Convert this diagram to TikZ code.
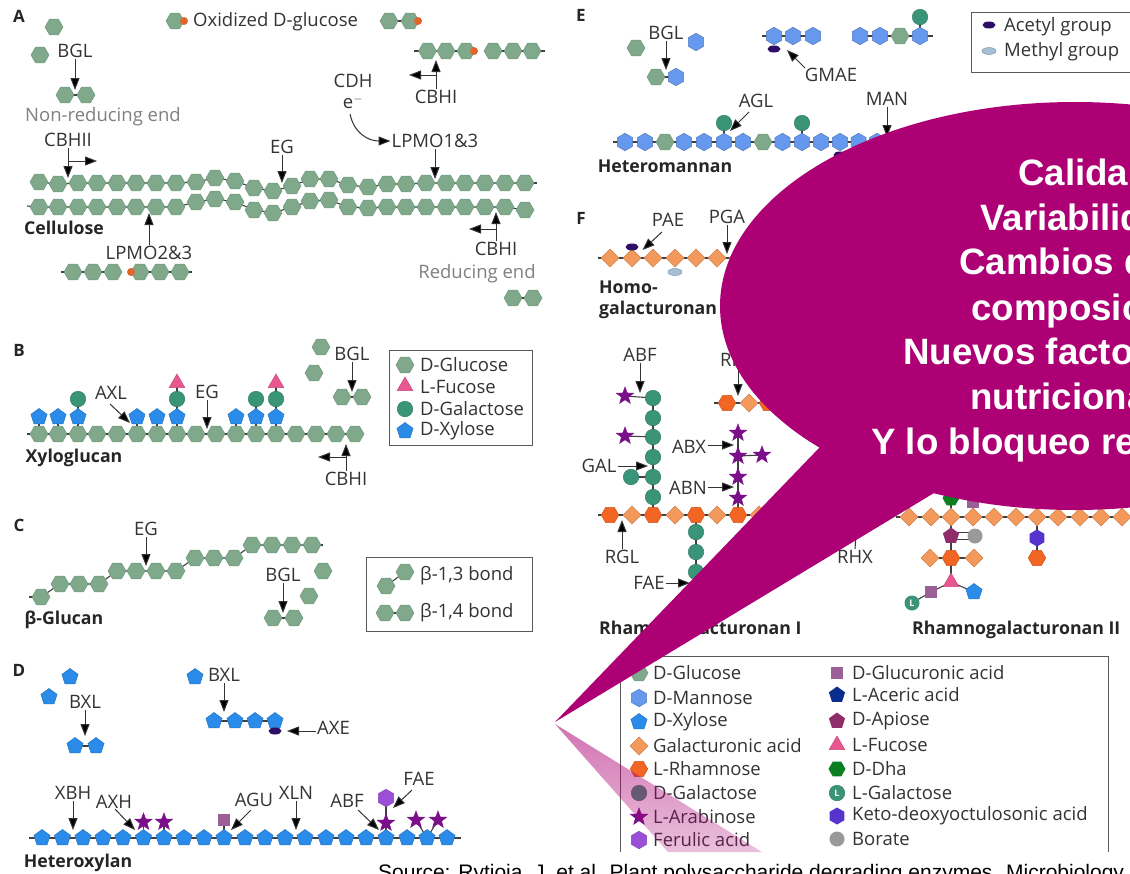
\documentclass[tikz,border=0pt]{standalone}
\usepackage{fontspec}
\setmainfont{Open Sans}
\newfontfamily\callfont{Liberation Sans}
\usetikzlibrary{shapes.geometric,arrows.meta,fadings}
\pgfdeclarelayer{bg}
\pgfsetlayers{bg,main}
\definecolor{cGlc}{HTML}{7FA98A}
\definecolor{cGlcD}{HTML}{6E9A7B}
\definecolor{cXyl}{HTML}{2B8BE8}
\definecolor{cMan}{HTML}{6699EE}
\definecolor{cGal}{HTML}{3A9478}
\definecolor{cFuc}{HTML}{E8578F}
\definecolor{cRha}{HTML}{F26522}
\definecolor{cGalA}{HTML}{F4995C}
\definecolor{cAra}{HTML}{7B0F8A}
\definecolor{cFer}{HTML}{9B4FD6}
\definecolor{cAce}{HTML}{2E0F66}
\definecolor{cMet}{HTML}{A5C0D6}
\definecolor{cGlcA}{HTML}{9A6097}
\definecolor{cOx}{HTML}{E0662B}
\definecolor{cAcer}{HTML}{0A2C8C}
\definecolor{cApi}{HTML}{8E2D6A}
\definecolor{cDha}{HTML}{0A7F22}
\definecolor{cKdo}{HTML}{5533CC}
\definecolor{cBor}{HTML}{999999}
\definecolor{cTxt}{HTML}{333333}
\definecolor{cBall}{HTML}{AD0074}
\tikzfading[name=tailfade,top color=transparent!45,bottom color=transparent!75]
\tikzset{
 sug/.style={inner sep=0pt,outer sep=0pt,line width=.5pt},
 glc/.style={sug,regular polygon,regular polygon sides=6,minimum size=18pt,fill=cGlc,draw=cGlcD},
 man/.style={sug,regular polygon,regular polygon sides=6,shape border rotate=30,minimum size=17.5pt,fill=cMan,draw=cMan!80!black},
 xyl/.style={sug,regular polygon,regular polygon sides=5,minimum size=17pt,fill=cXyl,draw=cXyl!85!black},
 gal/.style={sug,circle,minimum size=15.5pt,fill=cGal,draw=cGal!85!black},
 fuc/.style={sug,regular polygon,regular polygon sides=3,minimum size=18pt,fill=cFuc,draw=cFuc!85!black},
 rha/.style={sug,regular polygon,regular polygon sides=6,minimum size=17.5pt,fill=cRha,draw=cRha!85!black},
 gala/.style={sug,regular polygon,regular polygon sides=4,shape border rotate=45,minimum size=18pt,fill=cGalA,draw=cGalA!85!black},
 ara/.style={sug,star,star points=5,star point ratio=2.4,minimum size=18pt,fill=cAra,draw=cAra},
 fer/.style={sug,regular polygon,regular polygon sides=6,shape border rotate=30,minimum size=17.5pt,fill=cFer,draw=cFer!85!black},
 ace/.style={sug,ellipse,minimum width=13pt,minimum height=7pt,fill=cAce},
 met/.style={sug,ellipse,minimum width=14pt,minimum height=7pt,fill=cMet,draw=cMet!80!black},
 glca/.style={sug,rectangle,minimum size=11.5pt,fill=cGlcA},
 oxd/.style={sug,circle,minimum size=8pt,fill=cOx},
 acer/.style={sug,regular polygon,regular polygon sides=5,minimum size=17pt,fill=cAcer},
 api/.style={sug,regular polygon,regular polygon sides=5,minimum size=17pt,fill=cApi},
 dha/.style={sug,regular polygon,regular polygon sides=6,minimum size=17pt,fill=cDha},
 kdo/.style={sug,regular polygon,regular polygon sides=6,shape border rotate=30,minimum size=17pt,fill=cKdo},
 bor/.style={sug,circle,minimum size=15pt,fill=cBor},
 lgal/.style={sug,circle,minimum size=15pt,fill=cGal,text=white,font=\bfseries\fontsize{9}{9}\selectfont},
 bond/.style={draw=black!75,line width=1.1pt},
 arw/.style={draw=cTxt,line width=1pt,-{Stealth[length=12pt,width=9pt,inset=0pt,fill=black]}},
 lab/.style={inner sep=1pt,text=cTxt,font=\fontsize{18.5}{18.5}\selectfont},
 glab/.style={lab,text=black!50},
 blab/.style={inner sep=1pt,text=black!85,font=\bfseries\fontsize{17.7}{21}\selectfont},
 llab/.style={lab,anchor=west},
 frame/.style={draw=black!65,line width=1pt},
 calltxt/.style={anchor=base west,inner sep=0pt,text=white,font=\callfont\bfseries\fontsize{36.7}{36.7}\selectfont},
 srctxt/.style={anchor=base west,inner sep=0pt,text=black,font=\callfont\fontsize{21}{21}\selectfont},
}
\newcommand{\Row}[3]{\foreach \x/\y [count=\i] in {#3} \node[#1] (#2\i) at (\x,\y) {};}
\newcommand{\Mix}[2]{\foreach \s/\x/\y [count=\i] in {#2} \node[\s] (#1\i) at (\x,\y) {};}
\newcommand{\Poly}[3]{\begin{pgfonlayer}{bg}\draw[bond] (#1#2.center) foreach \i in {#2,...,#3} { -- (#1\i.center)};\end{pgfonlayer}}
\newcommand{\Bond}[2]{\begin{pgfonlayer}{bg}\draw[bond] (#1) -- (#2);\end{pgfonlayer}}
\newcommand{\Lab}[4]{\node[lab] (#1) at (#2,#3) {#4};}
\newcommand{\Arr}[2]{\draw[arw] (#1) -- (#2);}
\newcommand{\Pt}[3]{\coordinate (#1) at (#2,#3);}
\begin{document}
\begin{tikzpicture}[x=1pt,y=-1pt]
\useasboundingbox (0,0) rectangle (1130,873);
\begin{pgfonlayer}{bg}\fill[white] (0,0) rectangle (1130,873);\end{pgfonlayer}

% ---------- Panel letters
\foreach \n/\x/\y in {A/19/16,B/19/350,C/19/525,D/19/670,E/581/15,F/581/218}
  \node[blab,font=\bfseries\fontsize{17}{17}\selectfont] (let\n) at (\x,\y) {\n};

% ---------- Panel A
\Row{glc}{aS}{54/27,40/55}
\Lab{aBGL}{75}{51}{BGL}
\Row{glc}{aP}{65/95,86/95}\Poly{aP}{1}{2}
\Pt{aBGLt}{75}{90}\Arr{aBGL.south}{aBGLt}
\node[glab] (aNon) at (103,117) {Non-reducing end};
\Row{glc}{aO}{175/21}\node[oxd] (aOd) at (184,21) {};
\node[llab] (aOx) at (192,22) {Oxidized D-glucose};
\Row{glc}{aQ}{389/21,410/21}\Poly{aQ}{1}{2}\node[oxd] (aQd) at (418,21) {};
\Row{glc}{aT}{427.5/51,446/51,466/51,493/51,513/51,532/51}
\node[oxd] (aTd) at (474,51) {};
\Pt{aTl}{414}{51}\Pt{aTr}{545}{51}
\Bond{aTl}{aT3.center}\Bond{aT4.center}{aTr}
\Lab{aCDH}{353}{81}{CDH}
\Lab{aE}{353}{102}{e$^{-}$}
\Lab{aCBa}{436}{97}{CBHI}
\Pt{aCBat}{436}{60}\Pt{aCBab}{436}{75}\Pt{aCBal}{409}{75}
\Arr{aCBa.north}{aCBat}\Arr{aCBab}{aCBal}
\Lab{aLP1}{435}{141}{LPMO1\&3}
\Pt{aLP1t}{435}{179}\Arr{aLP1.south}{aLP1t}
\Pt{aEb}{350}{114}
\draw[arw] (aEb) .. controls (354,133) and (368,141) .. (aLP1.west);
\Lab{aCBH}{68}{140}{CBHII}
\Pt{aCBHt}{68}{178}\Pt{aCBHb}{68}{161}\Pt{aCBHr}{97}{161}
\Arr{aCBH.south}{aCBHt}\Arr{aCBHb}{aCBHr}
\Lab{aEG}{282}{147}{EG}
\Pt{aEGt}{282}{183}\Arr{aEG.south}{aEGt}
\Row{glc}{cA}{39/182,58/184,78/183,97/183,117/183,136/183,156/183,176/183,196/182,215/178,235/181,254/188,273/191,292/186,310/179,329/179,348/185,368/187,387/184,406/184,426/183,446/183,465/183,485/183,505/183,525/183}
\Row{glc}{cB}{39/207,58/207,78/207,97/207,117/207,136/207,156/207,176/207,196/202,215/199,235/202,254/210,273/213,292/207,310/201,329/200,348/207,368/208,387/207,406/207,426/207,446/207,465/207,485/207,505/207,525/210}
\Poly{cA}{1}{26}\Poly{cB}{1}{26}
\Pt{cAr}{537}{183}\Pt{cBl}{27}{206}
\Bond{cA26.center}{cAr}\Bond{cBl}{cB1.center}
\node[blab] (aCel) at (64,228) {Cellulose};
\Lab{aLP2}{149}{253}{LPMO2\&3}
\Pt{aLP2t}{149}{213}\Arr{aLP2.north}{aLP2t}
\Row{glc}{aL}{73/272,93/272,113/272,140/272,160/272,180/272}
\node[oxd] (aLd) at (131,272) {};
\Pt{aLl}{61}{272}\Pt{aLr}{192}{272}
\Bond{aLl}{aL3.center}\Bond{aL4.center}{aLr}
\Lab{aCBb}{496}{249}{CBHI}
\Pt{aCBbt}{496}{212}\Pt{aCBbb}{496}{229}\Pt{aCBbl}{469}{229}
\Arr{aCBb.north}{aCBbt}\Arr{aCBbb}{aCBbl}
\node[glab] (aRed) at (477,274) {Reducing end};
\Row{glc}{aR}{513/298,533/298}\Poly{aR}{1}{2}

% ---------- Panel B
\Row{glc}{bC}{39/434,58/434,78/434,97/434,117/434,137/434,157/434,177/434,196/434,216/434,236/434,256/434,276/434,296/434,316/434,336/434,355/434}
\Pt{bCl}{27}{434}\Poly{bC}{1}{17}\Bond{bCl}{bC1.center}
\Row{xyl}{bX}{39/417,58/417,78/417,137/417,157/417,177/417,236/417,256/417,276/417}
\Bond{bX1.center}{bC1.center}\Bond{bX2.center}{bC2.center}\Bond{bX3.center}{bC3.center}
\Bond{bX4.center}{bC6.center}\Bond{bX5.center}{bC7.center}\Bond{bX6.center}{bC8.center}
\Bond{bX7.center}{bC11.center}\Bond{bX8.center}{bC12.center}\Bond{bX9.center}{bC13.center}
\Row{gal}{bG}{78/399,177/399,256/399,276/399}
\Bond{bG1.center}{bX3.center}\Bond{bG2.center}{bX6.center}\Bond{bG3.center}{bX8.center}\Bond{bG4.center}{bX9.center}
\Row{fuc}{bF}{177/383,276/383}
\Bond{bF1.center}{bG2.center}\Bond{bF2.center}{bG4.center}
\Lab{bAXL}{111}{393}{AXL}
\Pt{bAXs}{110}{404}\Pt{bAXt}{130}{423}\Arr{bAXs}{bAXt}
\Lab{bEG}{207}{392}{EG}
\Pt{bEGt}{207}{429}\Arr{bEG.south}{bEGt}
\Lab{bCB}{346}{479}{CBHI}
\Pt{bCBt}{346}{444}\Pt{bCBb}{346}{457}\Pt{bCBl}{318}{457}
\Arr{bCB.north}{bCBt}\Arr{bCBb}{bCBl}
\node[blab] (bXyl) at (74,458) {Xyloglucan};
\Row{glc}{bS}{321/347,314/373}
\Lab{bBGL}{352}{354}{BGL}
\Row{glc}{bP}{342/397,362/397}\Poly{bP}{1}{2}
\Pt{bBGt}{352}{392}\Arr{bBGL.south}{bBGt}
\draw[frame] (389,350) rectangle (532,445);
\node[glc] (bl1) at (405,365) {};
\node[fuc] (bl2) at (405,386) {};
\node[gal] (bl3) at (405,409) {};
\node[xyl] (bl4) at (405,431) {};
\node[llab] (blt1) at (419,365) {D-Glucose};
\node[llab] (blt2) at (419,387) {L-Fucose};
\node[llab] (blt3) at (419,409) {D-Galactose};
\node[llab] (blt4) at (419,431) {D-Xylose};

% ---------- Panel C
\Row{glc}{cC}{41/597,60/584,79/584,99/584,117/571,136/571,156/571,176/571,195/558,214/558,234/558,252/545,272/545,292/545,312/545}
\Poly{cC}{1}{15}
\Pt{cCl}{29}{597}\Pt{cCr}{323}{545}
\Bond{cCl}{cC1.center}\Bond{cC15.center}{cCr}
\Lab{cEG}{146}{529}{EG}
\Pt{cEGt}{146}{566}\Arr{cEG.south}{cEGt}
\node[blab] (cBG) at (64,620) {β-Glucan};
\Row{glc}{cS}{323/571,309/596}
\Lab{cBGL}{283}{575}{BGL}
\Row{glc}{cP}{273/618,294/618}\Poly{cP}{1}{2}
\Pt{cBGt}{283}{613}\Arr{cBGL.south}{cBGt}
\draw[frame] (366,557) rectangle (532,631);
\Row{glc}{cL}{386/586,405/572}\Poly{cL}{1}{2}
\Row{glc}{cM}{385/613,405/613}\Poly{cM}{1}{2}
\node[llab] (cLt) at (419,576) {β-1,3 bond};
\node[llab] (cMt) at (419,613) {β-1,4 bond};

% ---------- Panel D
\Row{xyl}{dS}{70/677,49/697}
\Lab{dBa}{85}{702}{BXL}
\Row{xyl}{dP}{75/746,96/746}\Poly{dP}{1}{2}
\Pt{dBat}{85}{736}\Arr{dBa.south}{dBat}
\Row{xyl}{dU}{195/677}
\Lab{dBb}{224}{675}{BXL}
\Row{xyl}{dQ}{214/721,235/721,255/721,275/721}\Poly{dQ}{1}{4}
\Pt{dBbt}{224}{712}\Arr{dBb.south}{dBbt}
\node[ace] (dAc) at (275,731) {};
\node[llab] (dAXE) at (316,728) {AXE};
\Pt{dAXs}{316}{731}\Pt{dAXt}{287}{731}\Arr{dAXs}{dAXt}
\Row{xyl}{dC}{42/838,62.5/838,83/838,103/838,123/838,143.5/838,164/838,184/838,204/838,224/838,245/838,265/838,285/838,305/838,326/838,346/838,366/838,386/838,407/838,427/838,447/838}
\Poly{dC}{1}{21}
\Pt{dCl}{29}{838}\Pt{dCr}{461}{838}
\Bond{dCl}{dC1.center}\Bond{dC21.center}{dCr}
\node[blab] (dHet) at (78,863) {Heteroxylan};
\Lab{dXBH}{73}{793}{XBH}
\Pt{dXBt}{73}{830}\Arr{dXBH.south}{dXBt}
\Lab{dAXH}{114}{802}{AXH}
\Pt{dAHs}{115}{809}\Pt{dAHt}{135}{830}\Arr{dAHs}{dAHt}
\Row{ara}{dA}{143.5/822,164/822,386/823,416/820,438/820}
\Bond{dA1.center}{dC6.center}\Bond{dA2.center}{dC7.center}\Bond{dA3.center}{dC18.center}
\Bond{dA4.center}{dC20.center}\Bond{dA5.center}{dC20.center}
\node[glca] (dSq) at (224,820) {};\Bond{dSq.center}{dC10.center}
\Lab{dAGU}{254}{800}{AGU}
\Pt{dAGs}{251}{810}\Pt{dAGt}{231}{830}\Arr{dAGs}{dAGt}
\Lab{dXLN}{296}{793}{XLN}
\Pt{dXLt}{296}{830}\Arr{dXLN.south}{dXLt}
\Lab{dABF}{347}{801}{ABF}
\Pt{dABs}{358}{810}\Pt{dABt}{379}{830}\Arr{dABs}{dABt}
\node[fer] (dFe) at (386,798) {};\Bond{dFe.center}{dA3.center}
\Lab{dFAE}{419}{779}{FAE}
\Pt{dFAs}{412}{790}\Pt{dFAt}{393}{808}\Arr{dFAs}{dFAt}

% ---------- Panel E
\node[glc] (eS) at (636,48) {};\node[man] (eT) at (696,42) {};
\Lab{eBGL}{666}{33}{BGL}
\node[glc] (eP1) at (656,77) {};\node[man] (eP2) at (676,77) {};\Bond{eP1.center}{eP2.center}
\Pt{eBGt}{666}{70}\Arr{eBGL.south}{eBGt}
\Row{man}{eA}{774/36,793/36,813/36}
\Pt{eAl}{762}{36}\Bond{eAl}{eA3.center}
\node[ace] (eAc) at (774,49) {};
\Lab{eGM}{831}{75}{GMAE}
\Pt{eGMs}{805}{68}\Pt{eGMt}{787}{50}\Arr{eGMs}{eGMt}
\Mix{eB}{man/860/36,man/880/36,glc/900/36,man/920/36}
\Pt{eBr}{933}{36}\Bond{eB1.center}{eBr}
\node[gal] (eBg) at (920,17) {};\Bond{eBg.center}{eB4.center}
\draw[frame] (971,12) rectangle (1135,72);
\node[ace] (el1) at (989,25) {};\node[met] (el2) at (989,51) {};
\node[llab] (elt1) at (1003,27) {Acetyl group};
\node[llab] (elt2) at (1003,52) {Methyl group};
\Lab{eAGL}{756}{101}{AGL}
\Pt{eAGs}{749}{112}\Pt{eAGt}{730}{131}\Arr{eAGs}{eAGt}
\Lab{eMAN}{887}{99}{MAN}
\Pt{eMAt}{887}{137}\Arr{eMAN.south}{eMAt}
\Mix{eC}{man/625/142,man/645/142,glc/665/142,man/684/142,man/704/142,man/724/142,man/743/142,glc/763/142,man/782.5/142,man/802/142,man/821/142,man/840/142,man/858.6/142,man/877/142,man/897/142}
\Poly{eC}{1}{15}
\Pt{eCl}{613}{142}\Bond{eCl}{eC1.center}
\node[gal] (eG1) at (724,123) {};\node[gal] (eG2) at (802,123) {};
\Bond{eG1.center}{eC6.center}\Bond{eG2.center}{eC10.center}
\node[ace] (eAd) at (840,155) {};
\node[blab] (eHet) at (665,166) {Heteromannan};

% ---------- Panel F, homogalacturonan
\Row{gala}{fH}{610/258,632/258,653/258,675/258,696/258,717/258,738/258,759/258}
\Poly{fH}{1}{8}
\Pt{fHl}{598}{258}\Bond{fHl}{fH1.center}
\node[ace] (fHa) at (632,247) {};\node[met] (fHm) at (675,272) {};
\Lab{fPAE}{668}{220}{PAE}
\Pt{fPAs}{662}{232}\Pt{fPAt}{642.5}{250}\Arr{fPAs}{fPAt}
\Lab{fPGA}{727}{217}{PGA}
\Pt{fPGt}{727}{254}\Arr{fPGA.south}{fPGt}
\node[blab,anchor=west,align=left] (fHom) at (598,299.5) {Homo-\\galacturonan};

% ---------- RG I
\Mix{fR}{rha/610/515,gala/632/515,rha/653/515,gala/675/515,rha/696/515,gala/717/515,rha/738/515,gala/759/515}
\Poly{fR}{1}{8}
\Pt{fRl}{598}{515}\Bond{fRl}{fR1.center}
\Row{gal}{fV}{653/398,653/418,653/437,653/457,653/477,653/497}
\Poly{fV}{1}{6}\Bond{fV6.center}{fR3.center}
\node[ara] (fVa) at (625,396) {};\Bond{fVa.center}{fV1.center}
\node[ara] (fVb) at (625,436) {};\Bond{fVb.center}{fV3.center}
\node[gal] (fVc) at (631,477) {};\Bond{fVc.center}{fV5.center}
\Lab{fABF}{640}{355}{ABF}
\Pt{fABt}{640}{393}\Arr{fABF.south}{fABt}
\Lab{fGAL}{599}{466}{GAL}
\Pt{fGAs}{618}{466}\Pt{fGAt}{648}{466}\Arr{fGAs}{fGAt}
\Lab{fRGL}{622}{557}{RGL}
\Pt{fRGt}{622}{520}\Arr{fRGL.north}{fRGt}
\Row{gal}{fW}{696/532,696/552,696/572,696/592}
\Poly{fW}{1}{4}\Bond{fW1.center}{fR5.center}
\Lab{fFAE}{649}{583}{FAE}
\Pt{fFAs}{666}{583}\Pt{fFAt}{690}{583}\Arr{fFAs}{fFAt}
\Row{ara}{fS}{738/433,738/456,738/477,738/498}
\Poly{fS}{1}{4}\Bond{fS4.center}{fR7.center}
\node[ara] (fSx) at (762,455) {};\Bond{fSx.center}{fS2.center}
\Lab{fABX}{689}{447}{ABX}
\Pt{fAXs}{708}{445}\Pt{fAXt}{734}{445}\Arr{fAXs}{fAXt}
\Lab{fABN}{688}{488}{ABN}
\Pt{fANs}{708}{487}\Pt{fANt}{734}{487}\Arr{fANs}{fANt}
\node[llab] (fRH) at (719,360) {RHG};
\Mix{fT}{rha/727/403,gala/749/403,rha/768/403,gala/790/403}
\Poly{fT}{1}{4}
\Pt{fTl}{714}{403}\Bond{fTl}{fT1.center}
\Pt{fRHs}{738}{367}\Pt{fRHt}{738}{396}\Arr{fRHs}{fRHt}
\node[blab,anchor=west] (fRGa) at (598,630) {Rhamnogalacturonan I};
\Lab{fRHX}{855}{557}{RHX}
\Pt{fRXt}{856}{535}\draw[arw,-] (fRHX.north) -- (fRXt);

% ---------- RG II
\Row{gala}{fQ}{909/517,931/517,951/517,973/517,994/517,1016/517,1037/517,1058/517,1080/517,1101/517,1122/517,1143/517}
\Poly{fQ}{1}{12}
\Pt{fQl}{896}{517}\Bond{fQl}{fQ1.center}
\node[dha] (fDh) at (951,498) {};\Bond{fDh.center}{fQ3.center}
\node[glca] (fGA) at (973,502) {};\Bond{fGA.center}{fQ4.center}
\node[api] (fAp) at (951,536) {};\Bond{fAp.center}{fQ3.center}
\node[bor] (fBo) at (975,536) {};
\begin{pgfonlayer}{bg}\draw[bond] ([yshift=-3.5pt]fAp.center) -- ([yshift=-3.5pt]fBo.center);\draw[bond] ([yshift=3.5pt]fAp.center) -- ([yshift=3.5pt]fBo.center);\end{pgfonlayer}
\node[rha] (fRh) at (951,558) {};\Bond{fRh.center}{fAp.center}
\node[gala] (fDl) at (930,558) {};\node[gala] (fDr) at (974,558) {};
\Bond{fDl.center}{fDr.center}
\node[fuc] (fFu) at (951,582) {};\Bond{fFu.center}{fRh.center}
\node[glca] (fSq) at (931,592) {};\node[xyl] (fXy) at (974,592) {};
\Bond{fSq.center}{fFu.center}\Bond{fXy.center}{fFu.center}
\node[lgal] (fLg) at (912,603) {L};\Bond{fLg.center}{fSq.center}
\node[kdo] (fKd) at (1037,538) {};\Bond{fKd.center}{fQ7.center}
\node[rha] (fRi) at (1037,558) {};\Bond{fRi.center}{fKd.center}
\node[blab,anchor=west] (fRGb) at (911,630) {Rhamnogalacturonan II};

% ---------- big legend
\draw[frame] (620,852) -- (620,656) -- (1108,656) -- (1108,852);
\foreach \st/\tx/\y [count=\i] in {glc/D-Glucose/673,man/D-Mannose/698,xyl/D-Xylose/722,gala/Galacturonic acid/746,rha/L-Rhamnose/769,gal/D-Galactose/793,ara/L-Arabinose/817,fer/Ferulic acid/840}
 {\node[\st] (lA\i) at (639,\y) {};\node[llab] (lAt\i) at (652,\y) {\tx};}
\foreach \st/\tx/\y [count=\i] in {glca/D-Glucuronic acid/673,acer/L-Aceric acid/695,api/D-Apiose/721,fuc/L-Fucose/745,dha/D-Dha/769,gal/L-Galactose/793,kdo/Keto-deoxyoctulosonic acid/816,bor/Borate/839}
 {\node[\st] (lB\i) at (837,\y) {};\node[llab] (lBt\i) at (851,\y) {\tx};}
\node[lgal] (lBL) at (837,793) {L};

% ---------- source
\node[srctxt] (src) at (378,879) {Source: Rytioja, J. et al. Plant polysaccharide degrading enzymes. Microbiology};

% ---------- callout
\fill[cBall,path fading=tailfade] (555,724) -- (762,852) -- (668,852) -- cycle;
\fill[cBall] (555,722) -- (820,447) -- (934,493) -- cycle;
\fill[cBall] (1075,306) ellipse [x radius=355,y radius=204];
\node[calltxt] (k1) at (1018,185) {Calida};
\node[calltxt] (k2) at (980,230) {Variabilid};
\node[calltxt] (k3) at (959,274) {Cambios d};
\node[calltxt] (k4) at (971,320) {composic};
\node[calltxt] (k5) at (903,364) {Nuevos facto};
\node[calltxt] (k6) at (970,409) {nutriciona};
\node[calltxt] (k7) at (871,454) {Y lo bloqueo re};
\end{tikzpicture}
\end{document}
